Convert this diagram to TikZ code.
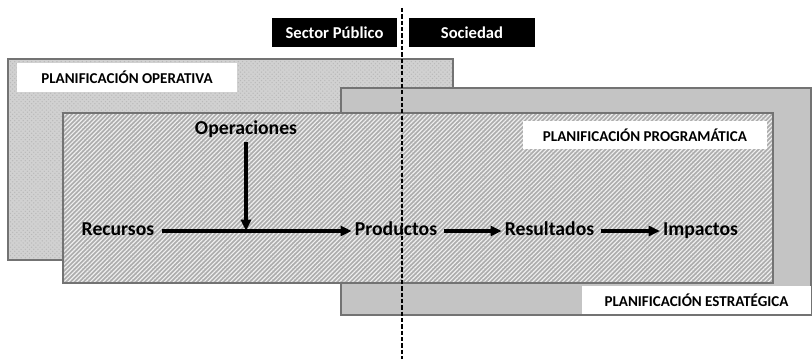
\documentclass[tikz,border=0pt]{standalone}
\usepackage{fontspec}
\setmainfont{Carlito}
\usepackage{tikz}
\usetikzlibrary{arrows.meta, positioning, patterns, patterns.meta}

\begin{document}
\begin{tikzpicture}[
    x=0.025cm, y=-0.025cm,
    level/.style={draw=black!55, line width=0.8pt},
    tag/.style={rectangle, fill=white, align=center, inner sep=0pt, minimum height=0.71cm, font=\fontsize{10.7}{12}\selectfont\bfseries},
    sidetag/.style={rectangle, fill=black, text=white, inner sep=0pt, minimum height=0.725cm, font=\fontsize{11.8}{13}\selectfont\bfseries},
    stage/.style={font=\fontsize{14}{16}\selectfont\bfseries, inner sep=2pt, text height=10pt, text depth=3pt},
    arrow/.style={-{Triangle[length=8pt, width=7pt]}, line width=2.2pt, black, shorten <=3pt},
    divider/.style={black, line width=0.8pt, dash pattern=on 3pt off 1.5pt}
]
\useasboundingbox (0,0) rectangle (812,359);

% Planning levels (back to front)
\fill[gray!36] (8,59) rectangle (453,260);
\fill[pattern=crosshatch dots, pattern color=gray!55] (8,59) rectangle (453,260);
\draw[level] (8,59) rectangle (453,260);

\filldraw[level, fill=gray!46] (341,88) rectangle (811,315);

\fill[gray!64] (63,113) rectangle (773,283);
\fill[pattern={Lines[angle=45, distance=2.2pt, line width=0.8pt]}, pattern color=white!88!gray] (63,113) rectangle (773,283);
\draw[level] (63,113) rectangle (773,283);

% Level labels
\node[tag, minimum width=5.5cm] (operativa) at (127,77.5) {PLANIFICACIÓN OPERATIVA};
\node[tag, minimum width=6.1cm] (programatica) at (645,135) {PLANIFICACIÓN PROGRAMÁTICA};
\node[tag, minimum width=5.725cm] (estrategica) at (696.5,300) {PLANIFICACIÓN ESTRATÉGICA};

% Public sector / society split
\coordinate (splittop) at (402,8);
\coordinate (splitbottom) at (402,359);
\draw[divider] (splittop) -- (splitbottom);
\node[sidetag, minimum width=3.125cm] (publico) at (334.5,32.5) {Sector Público};
\node[sidetag, minimum width=3.15cm] (sociedad) at (472,32.5) {Sociedad};

% Value chain
\node[stage] (recursos) at (118,231) {Recursos};
\node[stage] (operaciones) at (246,130) {Operaciones};
\node[stage] (productos) at (396,231) {Productos};
\node[stage] (resultados) at (549.5,231) {Resultados};
\node[stage] (impactos) at (700.5,231) {Impactos};
\coordinate (join) at (operaciones |- recursos);

\draw[arrow] (recursos) -- (productos);
\draw[arrow, shorten <=0pt] (operaciones) -- (join);
\draw[arrow] (productos) -- (resultados);
\draw[arrow] (resultados) -- (impactos);

\end{tikzpicture}
\end{document}
